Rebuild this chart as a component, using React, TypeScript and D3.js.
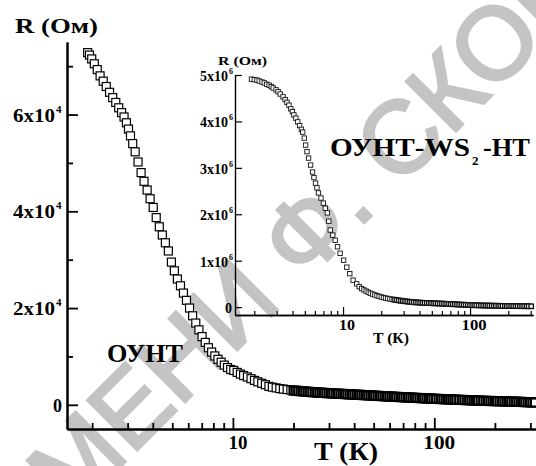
import React, { useEffect, useRef } from 'react';
import * as d3 from 'd3';

// ОУНТ: T (K), R (Ом)
const cntPoints: [number, number][] = [
  [1.90, 72800], [1.94, 72300], [1.99, 71500], [2.05, 70500], [2.12, 69300], [2.19, 68000],
  [2.27, 66900], [2.35, 65800], [2.44, 64600], [2.53, 63500], [2.62, 62500], [2.71, 61400],
  [2.80, 60400], [2.88, 59500], [2.96, 58300], [3.03, 57000], [3.10, 55600], [3.18, 54000],
  [3.27, 52300], [3.38, 50200], [3.50, 48000], [3.62, 46200], [3.75, 44400], [3.88, 42600],
  [4.02, 40800], [4.16, 38700], [4.31, 36800], [4.46, 35100], [4.62, 33500], [4.78, 31800],
  [4.95, 29500], [5.12, 27700], [5.30, 26000], [5.49, 24600], [5.68, 23100], [5.88, 21600],
  [6.09, 20000], [6.31, 18400], [6.54, 16900], [6.78, 15500], [7.03, 14100], [7.29, 12900],
  [7.56, 11800], [7.84, 10900], [8.13, 10100], [8.43, 9400], [8.74, 8800], [9.06, 8200],
  [9.40, 7700], [9.75, 7300], [10.1, 7100], [10.5, 6700], [10.9, 6350], [11.3, 6050],
  [11.8, 5750], [12.3, 5400], [12.8, 5050], [13.3, 4750], [13.9, 4450], [14.5, 4150],
  [15.1, 3800], [15.7, 3650], [16.4, 3500], [17.1, 3350], [17.8, 3250], [18.6, 3150],
  [19.4, 3050], [20.0, 2950], [20.5, 2910], [21.1, 2860], [21.7, 2820], [22.3, 2780],
  [22.9, 2740], [23.5, 2700], [24.1, 2660], [24.8, 2620], [25.5, 2580], [26.2, 2550],
  [26.9, 2520], [27.6, 2490], [28.3, 2460], [29.1, 2430], [29.9, 2400], [30.7, 2370],
  [31.5, 2350], [32.4, 2320], [33.3, 2300], [34.2, 2270], [35.1, 2250], [36.0, 2220],
  [37.0, 2190], [38.0, 2160], [39.0, 2140], [40.1, 2110], [41.2, 2090], [42.3, 2060],
  [43.4, 2040], [44.6, 2010], [45.8, 1990], [47.0, 1960], [48.3, 1930], [49.6, 1900],
  [50.9, 1880], [52.3, 1850], [53.7, 1820], [55.2, 1800], [56.7, 1770], [58.2, 1740],
  [59.8, 1720], [61.4, 1690], [63.0, 1670], [64.7, 1640], [66.5, 1620], [68.3, 1590],
  [70.1, 1570], [72.0, 1540], [74.0, 1520], [76.0, 1490], [78.0, 1470], [80.1, 1440],
  [82.3, 1420], [84.5, 1400], [86.8, 1370], [89.1, 1350], [91.5, 1320], [94.0, 1300],
  [96.5, 1280], [99.1, 1250], [102, 1230], [105, 1210], [108, 1190], [111, 1170],
  [114, 1150], [117, 1130], [120, 1110], [123, 1090], [126, 1070], [129, 1050],
  [133, 1030], [137, 1010], [141, 990], [145, 970], [149, 950], [153, 930],
  [157, 910], [161, 890], [165, 870], [170, 850], [175, 830], [180, 810],
  [185, 800], [190, 790], [195, 780], [200, 770], [205, 755], [211, 740],
  [217, 725], [223, 710], [229, 695], [235, 680], [241, 665], [248, 650],
  [255, 635], [262, 620], [269, 600], [276, 580], [283, 560], [291, 540],
  [299, 520], [307, 495], [316, 470],
];

// ОУНТ-WS2-НТ (inset): T (K), R (Ом)
const wsPoints: [number, number][] = [
  [1.90, 4.91e6], [2.00, 4.90e6], [2.10, 4.89e6], [2.19, 4.87e6], [2.30, 4.85e6], [2.40, 4.83e6],
  [2.51, 4.80e6], [2.62, 4.78e6], [2.72, 4.75e6], [2.82, 4.72e6], [2.97, 4.68e6], [3.08, 4.64e6],
  [3.20, 4.59e6], [3.37, 4.53e6], [3.50, 4.47e6], [3.62, 4.41e6], [3.75, 4.35e6], [3.88, 4.27e6],
  [3.99, 4.21e6], [4.10, 4.14e6], [4.25, 4.07e6], [4.40, 3.99e6], [4.55, 3.91e6], [4.70, 3.83e6],
  [4.81, 3.77e6], [4.95, 3.64e6], [5.07, 3.49e6], [5.20, 3.35e6], [5.35, 3.21e6], [5.55, 3.06e6],
  [5.75, 2.91e6], [5.90, 2.79e6], [6.07, 2.67e6], [6.23, 2.57e6], [6.40, 2.46e6], [6.70, 2.35e6],
  [7.00, 2.24e6], [7.25, 2.13e6], [7.52, 2.03e6], [7.72, 1.85e6], [7.93, 1.66e6], [8.30, 1.55e6],
  [8.67, 1.44e6], [9.05, 1.30e6], [9.48, 1.16e6], [10.1, 1.01e6], [10.7, 0.86e6], [11.3, 0.72e6],
  [12.0, 0.58e6], [12.8, 0.50e6], [13.4, 0.44e6], [14.0, 0.40e6], [14.6, 0.37e6], [15.2, 0.345e6],
  [15.8, 0.32e6], [16.4, 0.30e6], [17.1, 0.28e6], [17.8, 0.262e6], [18.5, 0.246e6], [19.2, 0.232e6],
  [20.0, 0.218e6], [20.8, 0.206e6], [21.6, 0.195e6], [22.5, 0.185e6], [23.4, 0.176e6], [24.3, 0.168e6],
  [25.3, 0.160e6], [26.3, 0.152e6], [27.4, 0.145e6], [28.5, 0.138e6], [29.6, 0.132e6], [30.8, 0.126e6],
  [32.0, 0.120e6], [33.3, 0.115e6], [34.6, 0.110e6], [36.0, 0.106e6], [37.5, 0.102e6], [39.0, 0.099e6],
  [40.5, 0.096e6], [42.1, 0.093e6], [43.8, 0.091e6], [45.6, 0.089e6], [47.4, 0.087e6], [49.3, 0.085e6],
  [51.3, 0.083e6], [53.3, 0.081e6], [55.5, 0.079e6], [57.7, 0.077e6], [60.0, 0.075e6], [62.4, 0.073e6],
  [64.9, 0.071e6], [67.5, 0.068e6], [70.2, 0.066e6], [73.0, 0.063e6], [75.9, 0.061e6], [79.0, 0.058e6],
  [82.1, 0.056e6], [85.4, 0.053e6], [88.8, 0.051e6], [92.4, 0.049e6], [96.1, 0.047e6], [99.9, 0.045e6],
  [104, 0.043e6], [108, 0.041e6], [112, 0.040e6], [117, 0.038e6], [122, 0.037e6], [127, 0.035e6],
  [132, 0.034e6], [137, 0.033e6], [142, 0.032e6], [148, 0.031e6], [154, 0.030e6], [160, 0.029e6],
  [167, 0.028e6], [173, 0.027e6], [180, 0.026e6], [188, 0.025e6], [195, 0.024e6], [203, 0.024e6],
  [211, 0.023e6], [219, 0.022e6], [228, 0.022e6], [237, 0.021e6], [247, 0.021e6], [257, 0.020e6],
  [267, 0.020e6], [278, 0.019e6], [289, 0.019e6], [303, 0.018e6],
];

const xMajor = [10, 100];
const xMinor = [2, 3, 4, 5, 6, 7, 8, 9, 20, 30, 40, 50, 60, 70, 80, 90, 200, 300];
const yMajor = [0, 2e4, 4e4, 6e4];
const yMinor = [1e4, 3e4, 5e4, 7e4];
const yLabels = ['0', '2x10', '4x10', '6x10'];
const insetYMajor = [0, 1e6, 2e6, 3e6, 4e6, 5e6];
const insetYLabels = ['0', '1x10', '2x10', '3x10', '4x10', '5x10'];

const serif = "'Liberation Serif', 'Times New Roman', serif";

const App: React.FC = () => {
  const svgRef = useRef<SVGSVGElement | null>(null);

  useEffect(() => {
    const svg = d3.select(svgRef.current);
    svg.selectAll('*').remove();

    // watermark
    const wm = svg
      .append('g')
      .attr('transform', 'translate(303,284) rotate(-45)')
      .attr('fill', '#c4c4c4')
      .attr('stroke', '#c4c4c4')
      .attr('stroke-width', 3)
      .attr('font-family', "'Liberation Sans', Arial, sans-serif")
      .attr('font-size', 102);
    wm.append('text').attr('x', -28).attr('text-anchor', 'end').text('ИМЕНИ');
    wm.append('text').attr('x', 0).text('Ф. СКОРИНЫ');

    // main plot
    const x = d3.scaleLog().domain([1.5, 320]).range([67, 536]);
    const y = d3.scaleLinear().domain([-5000, 75000]).range([429, 42]);

    const noLabel = () => '';
    const gx = svg.append('g').attr('transform', 'translate(0,429)');
    gx.call(d3.axisBottom(x).tickValues(xMajor).tickSize(-11).tickSizeOuter(0).tickFormat(noLabel));
    gx.append('g').call(d3.axisBottom(x).tickValues(xMinor).tickSize(-6).tickSizeOuter(0).tickFormat(noLabel));
    const gy = svg.append('g').attr('transform', 'translate(67,0)');
    gy.call(d3.axisLeft(y).tickValues(yMajor).tickSize(-11).tickSizeOuter(0).tickFormat(noLabel));
    gy.append('g').call(d3.axisLeft(y).tickValues(yMinor).tickSize(-6).tickSizeOuter(0).tickFormat(noLabel));
    [gx, gy].forEach(g => {
      g.selectAll('path.domain').attr('stroke', '#000').attr('stroke-width', 2);
      g.selectAll('line').attr('stroke', '#000').attr('stroke-width', 1.8);
    });

    // dense measurements above ~20 K merge into a solid band
    svg
      .append('g')
      .selectAll('rect')
      .data(cntPoints)
      .join('rect')
      .attr('x', d => x(d[0]) - 4)
      .attr('y', d => y(d[1]) - 4)
      .attr('width', 8)
      .attr('height', 8)
      .attr('fill', '#fff')
      .attr('stroke', '#000')
      .attr('stroke-width', d => (d[0] >= 20 ? 2.2 : 1.2));

    const txt = (px: number, py: number, s: string, size: number, anchor = 'start', len?: number) => {
      const t = svg
        .append('text')
        .attr('x', px)
        .attr('y', py)
        .attr('font-family', serif)
        .attr('font-weight', 'bold')
        .attr('font-size', size)
        .attr('text-anchor', anchor)
        .text(s);
      if (len) t.attr('textLength', len).attr('lengthAdjust', 'spacingAndGlyphs');
      return t;
    };

    yMajor.forEach((v, i) => {
      if (v === 0) {
        txt(62, y(v) + 7, '0', 18, 'end');
      } else {
        txt(55, y(v) + 7, yLabels[i], 18, 'end', 42);
        txt(56, y(v) - 2, '4', 11);
      }
    });
    xMajor.forEach(v => txt(x(v) + 5, 449, String(v), 18, 'middle', v === 10 ? 19 : 32));
    txt(15, 33, 'R (Ом)', 20, 'start', 83);
    txt(314, 460, 'T (К)', 25, 'start', 64);
    txt(107, 362, 'ОУНТ', 25, 'start', 76);

    // inset
    const xi = d3.scaleLog().domain([1.41, 313]).range([235, 533]);
    const yi = d3.scaleLinear().domain([-170000, 5000000]).range([315, 75]);

    const gxi = svg.append('g').attr('transform', 'translate(0,315)');
    gxi.call(d3.axisBottom(xi).tickValues(xMajor).tickSize(-8).tickSizeOuter(0).tickFormat(noLabel));
    gxi.append('g').call(d3.axisBottom(xi).tickValues(xMinor).tickSize(-4).tickSizeOuter(0).tickFormat(noLabel));
    const gyi = svg.append('g').attr('transform', 'translate(235,0)');
    gyi.call(d3.axisLeft(yi).tickValues(insetYMajor).tickSize(-7).tickSizeOuter(0).tickFormat(noLabel));
    [gxi, gyi].forEach(g => {
      g.selectAll('path.domain').attr('stroke', '#000').attr('stroke-width', 1.4);
      g.selectAll('line').attr('stroke', '#000').attr('stroke-width', 1.2);
    });

    svg
      .append('g')
      .selectAll('rect')
      .data(wsPoints)
      .join('rect')
      .attr('x', d => xi(d[0]) - 2.2)
      .attr('y', d => yi(d[1]) - 2.2)
      .attr('width', 4.4)
      .attr('height', 4.4)
      .attr('fill', '#fff')
      .attr('stroke', '#111')
      .attr('stroke-width', d => (d[0] >= 25 ? 1.4 : 0.9));

    insetYMajor.forEach((v, i) => {
      if (v === 0) {
        txt(232, yi(v) + 6, '0', 14, 'end');
      } else {
        txt(228, yi(v) + 6, insetYLabels[i], 14, 'end', 28);
        txt(229, yi(v) - 1, '6', 8);
      }
    });
    xMajor.forEach(v => txt(xi(v) + 4, 330, String(v), 14, 'middle', v === 10 ? 16 : 25));
    txt(218, 65, 'R (Ом)', 12, 'start', 49);
    txt(373, 343, 'T (К)', 14, 'start', 36);

    txt(330, 156, 'ОУНТ-WS', 25, 'start', 140);
    txt(472, 165, '2', 13);
    txt(483, 156, '-НТ', 25, 'start', 47);
  }, []);

  return (
    <svg
      ref={svgRef}
      width={536}
      height={466}
      style={{ position: 'absolute', left: 0, top: 0, background: '#fff' }}
    />
  );
};

export default App;
